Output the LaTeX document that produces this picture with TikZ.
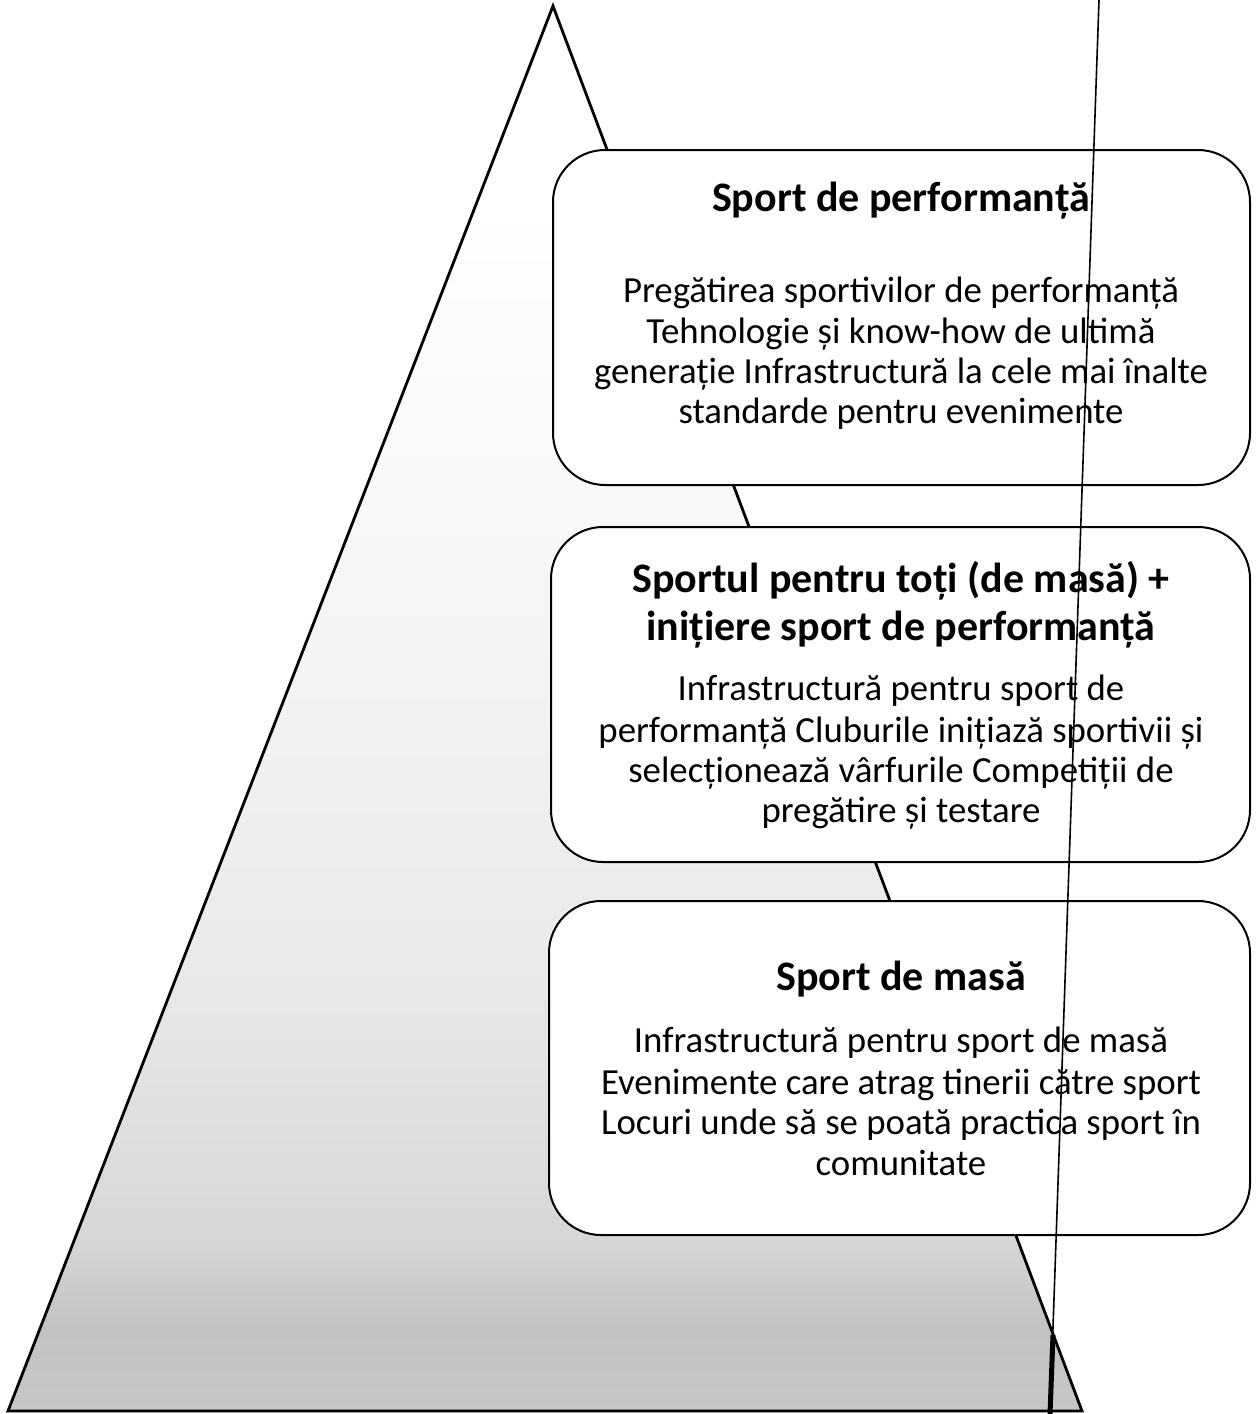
\documentclass[tikz,border=0pt]{standalone}
\usepackage{fontspec}
\setmainfont{Carlito}
\usetikzlibrary{fit}
\pgfdeclareverticalshading{pyrshade}{100bp}{color(0bp)=(black!22); color(25bp)=(black!22); color(28bp)=(black!24); color(31bp)=(black!16); color(40bp)=(black!9); color(50bp)=(black!5); color(61bp)=(black!2); color(68bp)=(white); color(100bp)=(white)}
\tikzset{
  triline/.style={line width=1.4pt, line join=miter},
  boxstyle/.style={draw, line width=1pt, fill=white, rounded corners=26pt, inner sep=0pt},
  titletext/.style={font=\fontsize{21}{25}\selectfont\bfseries, anchor=base, inner sep=0pt},
  bodytext/.style={font=\fontsize{18.4}{21}\selectfont, anchor=base, inner sep=0pt},
  scanline/.style={line width=0.8pt}
}
\begin{document}
\begin{tikzpicture}[x=0.5pt,y=-0.5pt]
\useasboundingbox (0,0) rectangle (1257,1414);
\fill[white] (0,0) rectangle (1257,1414);
% pyramid
\coordinate (apex) at (553,6);
\coordinate (bl) at (8,1411);
\coordinate (br) at (1082,1411);
\shade[shading=pyrshade] (apex) -- (br) -- (bl) -- cycle;
\draw[triline] (apex) -- (br) -- (bl) -- cycle;
% boxes
\node[boxstyle, fit={(553,150) (1250,485)}] (box1) {};
\node[boxstyle, fit={(551,527) (1250,862)}] (box2) {};
\node[boxstyle, fit={(549,901) (1250,1235)}] (box3) {};
% box 1 text
\node[titletext] (t1) at (901,211) {Sport de performanță};
\node[bodytext] (b1a) at (901,302) {Pregătirea sportivilor de performanță};
\node[bodytext] (b1b) at (901,343) {Tehnologie și know-how de ultimă};
\node[bodytext] (b1c) at (901,383) {generație Infrastructură la cele mai înalte};
\node[bodytext] (b1d) at (901,423) {standarde pentru evenimente};
% box 2 text
\node[titletext] (t2a) at (901,592) {Sportul pentru toți (de masă) +};
\node[titletext] (t2b) at (901,640) {inițiere sport de performanță};
\node[bodytext] (b2a) at (901,700) {Infrastructură pentru sport de};
\node[bodytext] (b2b) at (901,742) {performanță Cluburile inițiază sportivii și};
\node[bodytext] (b2c) at (901,782) {selecționează vârfurile Competiții de};
\node[bodytext] (b2d) at (901,822) {pregătire și testare};
% box 3 text
\node[titletext] (t3) at (901,990) {Sport de masă};
\node[bodytext] (b3a) at (901,1052) {Infrastructură pentru sport de masă};
\node[bodytext] (b3b) at (901,1094) {Evenimente care atrag tinerii către sport};
\node[bodytext] (b3c) at (901,1134) {Locuri unde să se poată practica sport în};
\node[bodytext] (b3d) at (901,1175) {comunitate};
% scan line
\coordinate (vt) at (1099,0);
\coordinate (vb) at (1050,1414);
\coordinate (vm) at (1053,1335);
\draw[scanline] (vt) -- (vb);
\draw[line width=2.5pt] (vm) -- (vb);
\end{tikzpicture}
\end{document}
